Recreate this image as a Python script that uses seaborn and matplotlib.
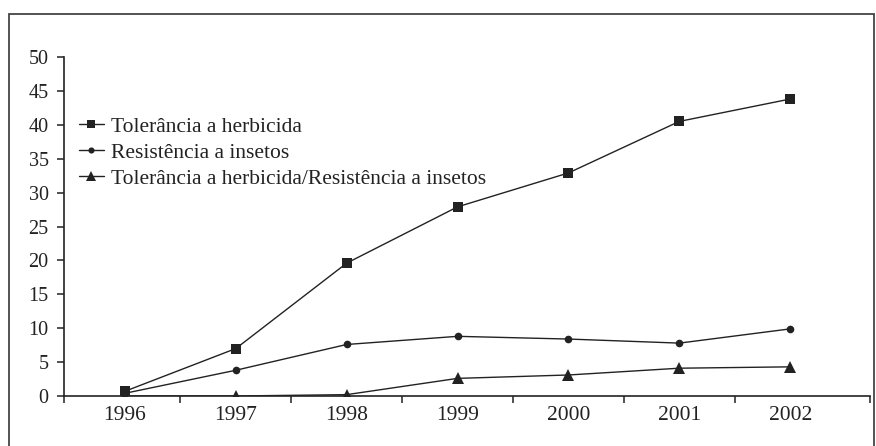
import numpy as np
import pandas as pd
import matplotlib
matplotlib.use("Agg")
import matplotlib.pyplot as plt
from matplotlib.patches import Rectangle
from matplotlib.lines import Line2D
import seaborn as sns

# Área global de culturas transgênicas por característica (milhões de ha)
anos = ["1996", "1997", "1998", "1999", "2000", "2001", "2002"]
tolerancia_herbicida = [0.7, 7.0, 19.6, 27.9, 32.9, 40.5, 43.8]
resistencia_insetos = [0.4, 3.8, 7.6, 8.8, 8.4, 7.8, 9.9]
herbicida_insetos = [0.0, 0.0, 0.2, 2.6, 3.1, 4.1, 4.3]

series = [
    "Tolerância a herbicida",
    "Resistência a insetos",
    "Tolerância a herbicida/Resistência a insetos",
]
yticks = [0, 5, 10, 15, 20, 25, 30, 35, 40, 45, 50]

df = pd.concat(
    [
        pd.DataFrame({"ano": anos, "area": vals, "serie": nome})
        for nome, vals in zip(series, [tolerancia_herbicida, resistencia_insetos, herbicida_insetos])
    ],
    ignore_index=True,
)
df["pos"] = df["ano"].map({a: i for i, a in enumerate(anos)})

sns.set_theme(style="white")
plt.rcParams["font.family"] = ["Liberation Serif", "DejaVu Serif"]

fig = plt.figure(figsize=(8.76, 4.46), dpi=100)
ax = fig.add_axes([64 / 876, 1 - 396 / 446, (870 - 64) / 876, (396 - 57) / 446])

ink = "#222222"
marcadores = {series[0]: "s", series[1]: "o", series[2]: "^"}
tamanhos = {series[0]: 7.5, series[1]: 5.5, series[2]: 9}

sns.lineplot(
    data=df, x="pos", y="area", hue="serie", style="serie",
    palette=[ink] * 3, markers=marcadores, dashes=False,
    linewidth=1.0, markeredgewidth=0, ax=ax, legend=False,
)
# marker sizes per series
for line, nome in zip(ax.lines, series):
    line.set_markersize(tamanhos[nome])
    line.set_markerfacecolor(ink)
    line.set_markeredgecolor(ink)

ax.set_xlim(-0.55, 6.72)
ax.set_ylim(0, 50)
ax.set_xlabel("")
ax.set_ylabel("")

ax.set_xticks(range(len(anos)))
ax.set_xticklabels(anos)
ax.set_xticks([-0.55, 0.5, 1.5, 2.5, 3.5, 4.5, 5.5, 6.72], minor=True)
ax.tick_params(axis="x", which="major", length=0, pad=7, labelsize=15.5, labelcolor=ink)
ax.tick_params(axis="x", which="minor", length=5, width=1.1, color=ink, direction="out", bottom=True)
ax.set_yticks(yticks)
ax.tick_params(axis="y", which="major", length=5, width=1.1, color=ink, direction="out",
               left=True, pad=6, labelsize=14.5, labelcolor=ink)

for s in ["top", "right"]:
    ax.spines[s].set_visible(False)
for s in ["left", "bottom"]:
    ax.spines[s].set_color(ink)
    ax.spines[s].set_linewidth(1.2)

# legend handles
handles = [
    Line2D([], [], color=ink, lw=1.0, marker=marcadores[n], markersize=tamanhos[n] * 0.8,
           markerfacecolor=ink, markeredgewidth=0)
    for n in series
]
fig.legend(handles, series, loc="upper left", bbox_to_anchor=(68 / 876, 1 - 106 / 446),
           frameon=False, fontsize=15.5, handlelength=1.15, handletextpad=0.35,
           labelspacing=0.28, borderpad=0, labelcolor=ink)

# outer frame around the figure
fig.patches.append(Rectangle((9 / 876, -0.05), (874 - 9) / 876, 1.05 - 14 / 446,
                             transform=fig.transFigure, fill=False,
                             edgecolor="#444444", linewidth=1.3))

fig.savefig("out.png", dpi=100)
